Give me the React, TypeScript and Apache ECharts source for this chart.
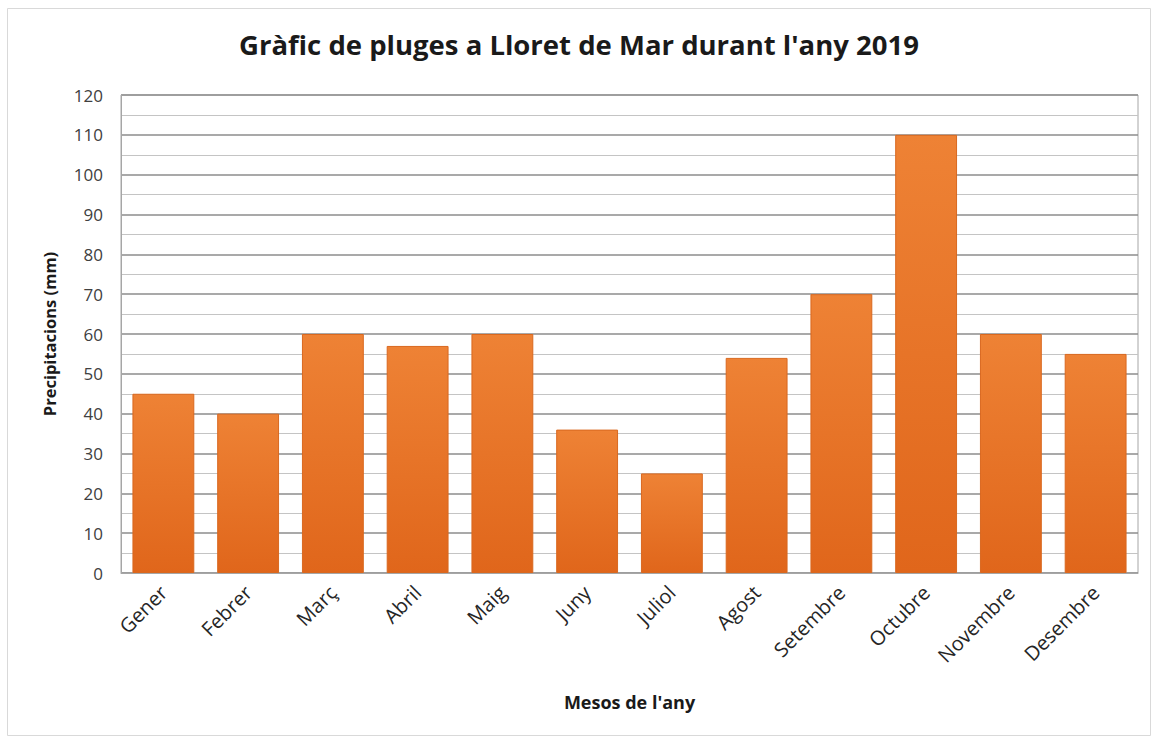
import React, { useEffect, useRef } from "react";
import * as echarts from "echarts";

const months = ["Gener", "Febrer", "Març", "Abril", "Maig", "Juny", "Juliol", "Agost", "Setembre", "Octubre", "Novembre", "Desembre"];
const rainfall = [45, 40, 60, 57, 60, 36, 25, 54, 70, 110, 60, 55];
const titleText = "Gràfic de pluges a Lloret de Mar durant l'any 2019";
const yTitle = "Precipitacions (mm)";
const xTitle = "Mesos de l'any";

export default function App() {
  const ref = useRef<HTMLDivElement>(null);
  useEffect(() => {
    const chart = echarts.init(ref.current!, null, { renderer: "svg" });
    const font = "'Open Sans', sans-serif";
    chart.setOption({
      animation: false,
      backgroundColor: "#ffffff",
      textStyle: { fontFamily: font },
      title: {
        text: titleText,
        left: "center",
        top: 25,
        textStyle: { fontFamily: font, fontSize: 27.5, fontWeight: "bold", color: "#1a1a1a" },
      },
      graphic: [
        {
          type: "rect",
          shape: { x: 7.5, y: 8.5, width: 1143, height: 727 },
          style: { fill: "none", stroke: "#d9d9d9", lineWidth: 1 },
          silent: true,
        },
      ],
      grid: {
        left: 121,
        right: 20,
        top: 95,
        bottom: 165,
        show: true,
        borderColor: "#a6a6a6",
        borderWidth: 1,
      },
      xAxis: {
        type: "category",
        data: months,
        name: xTitle,
        nameLocation: "middle",
        nameGap: 120,
        nameTextStyle: { fontFamily: font, fontSize: 18, fontWeight: "bold", color: "#1a1a1a" },
        axisLine: { show: true, lineStyle: { color: "#a6a6a6" } },
        axisTick: { show: false },
        axisLabel: { rotate: 45, fontSize: 20, color: "#262626", margin: 16, interval: 0, fontFamily: font },
      },
      yAxis: {
        type: "value",
        min: 0,
        max: 120,
        interval: 10,
        name: yTitle,
        nameLocation: "middle",
        nameGap: 63,
        nameTextStyle: { fontFamily: font, fontSize: 16.5, fontWeight: "bold", color: "#1a1a1a" },
        axisLine: { show: true, lineStyle: { color: "#a6a6a6" } },
        axisTick: { show: false },
        axisLabel: { fontSize: 17, color: "#404040", margin: 18, fontFamily: font },
        splitLine: { show: true, lineStyle: { color: "#8c8c8c", width: 1.5 } },
        minorTick: { show: false, splitNumber: 2 },
        minorSplitLine: { show: true, lineStyle: { color: "#c4c4c4", width: 1.2 } },
      },
      series: [
        {
          type: "bar",
          data: rainfall,
          barCategoryGap: "27%",
          itemStyle: {
            color: new echarts.graphic.LinearGradient(0, 0, 0, 1, [
              { offset: 0, color: "#ee8235" },
              { offset: 1, color: "#e0661b" },
            ]),
            borderColor: "#d9681f",
            borderWidth: 1,
          },
        },
      ],
    });
    return () => chart.dispose();
  }, []);
  return <div ref={ref} style={{ position: "absolute", left: 0, top: 0, width: 1158, height: 738 }} />;
}
